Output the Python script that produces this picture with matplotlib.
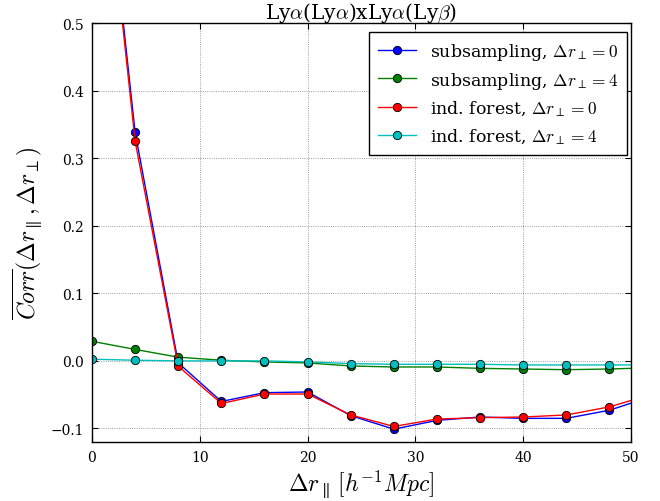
import matplotlib
matplotlib.use("Agg")
import matplotlib.pyplot as plt

plt.rcParams['mathtext.fontset'] = 'cm'

r_par = [0, 4, 8, 12, 16, 20, 24, 28, 32, 36, 40, 44, 48, 52]

sub_perp0 = [0.93, 0.338, -0.003, -0.060, -0.047, -0.046, -0.081, -0.101, -0.088, -0.083, -0.085, -0.085, -0.073, -0.052]
sub_perp4 = [0.029, 0.017, 0.0055, 0.001, -0.0015, -0.003, -0.0075, -0.009, -0.009, -0.011, -0.012, -0.013, -0.012, -0.010]
ind_perp0 = [0.92, 0.325, -0.008, -0.063, -0.049, -0.049, -0.080, -0.097, -0.086, -0.084, -0.083, -0.080, -0.068, -0.049]
ind_perp4 = [0.0025, 0.001, 0.0, 0.0, 0.0, -0.0015, -0.004, -0.005, -0.005, -0.005, -0.006, -0.006, -0.006, -0.006]

series = [
    (sub_perp0, 'b', r'subsampling, $\Delta r_\perp=0$'),
    (sub_perp4, 'g', r'subsampling, $\Delta r_\perp=4$'),
    (ind_perp0, 'r', r'ind. forest, $\Delta r_\perp=0$'),
    (ind_perp4, 'c', r'ind. forest, $\Delta r_\perp=4$'),
]

fig = plt.figure(figsize=(6.6, 5.02), dpi=100)
ax = fig.add_axes([92/660, 1-443/502, (631-92)/660, (443-24)/502])

for y, c, lab in series:
    ax.plot(r_par, y, '-o', color=c, mfc=c, mec='k', mew=0.6, ms=6, lw=1.0, label=lab)

ax.set_xlim(0, 50)
ax.set_ylim(-0.12, 0.5)
ax.set_xticks([0, 10, 20, 30, 40, 50])
ax.set_yticks([-0.1, 0.0, 0.1, 0.2, 0.3, 0.4, 0.5])
ax.tick_params(direction='in', top=True, right=True, labelsize=10, length=4, pad=6)
for lbl in ax.get_xticklabels() + ax.get_yticklabels():
    lbl.set_family('DejaVu Serif')
ax.grid(True, color='k', linestyle=':', linewidth=0.6, alpha=0.5)
for s in ax.spines.values():
    s.set_linewidth(1.0)

ax.set_xlabel(r'$\Delta r_\parallel\,[h^{-1}Mpc]$', fontsize=17, labelpad=2)
ax.set_ylabel(r'$\overline{Corr}(\Delta r_\parallel,\Delta r_\perp)$', fontsize=17, labelpad=4)
ax.set_title(r'Ly$\alpha$(Ly$\alpha$)xLy$\alpha$(Ly$\beta$)', fontsize=14.5, family='DejaVu Serif', pad=4)

leg = ax.legend(loc='upper right', prop={'family': 'DejaVu Serif', 'size': 12.5},
                fancybox=False, edgecolor='k', framealpha=1, numpoints=1,
                handlelength=2.2, borderpad=0.5, labelspacing=0.45,
                borderaxespad=0, bbox_to_anchor=(0.9926, 0.9785))
leg.get_frame().set_linewidth(1.0)

fig.savefig('out.png', dpi=100)
